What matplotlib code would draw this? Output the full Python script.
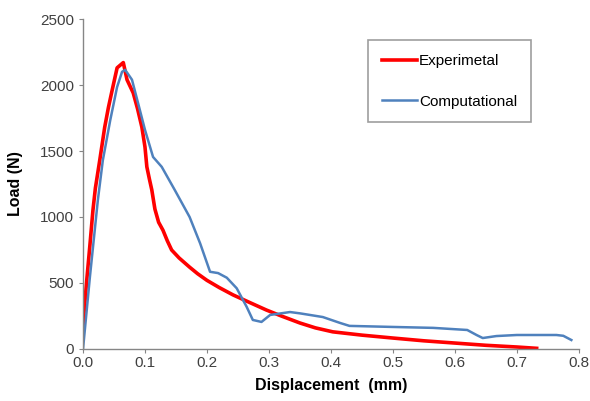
import matplotlib
matplotlib.use("Agg")
import matplotlib.pyplot as plt

plt.rcParams['font.family'] = ['Liberation Sans', 'DejaVu Sans']

exp_x = [0.0, 0.001, 0.006, 0.011, 0.016, 0.020, 0.027, 0.035, 0.041, 0.047, 0.055, 0.060,
         0.065, 0.071, 0.081, 0.088, 0.095, 0.100, 0.103, 0.107, 0.111, 0.116, 0.122, 0.129,
         0.136, 0.143, 0.155, 0.172, 0.185, 0.200, 0.220, 0.242, 0.270, 0.296, 0.320,
         0.350, 0.375, 0.403, 0.450, 0.500, 0.550, 0.600, 0.650, 0.700, 0.732]
exp_y = [120, 240, 520, 780, 1050, 1220, 1430, 1680, 1830, 1960, 2130, 2150,
         2170, 2040, 1940, 1820, 1680, 1530, 1380, 1290, 1205, 1060, 960, 900,
         820, 750, 690, 620, 570, 520, 465, 410, 350, 295, 250,
         197, 160, 130, 105, 83, 62, 45, 28, 15, 5]

# computational curve
comp_x = [0.0, 0.011, 0.024, 0.032, 0.044, 0.055, 0.063, 0.068, 0.079, 0.089, 0.100,
          0.113, 0.127, 0.148, 0.172, 0.189, 0.205, 0.218, 0.232, 0.248, 0.264, 0.274,
          0.288, 0.302, 0.334, 0.350, 0.366, 0.387, 0.415, 0.430, 0.500, 0.565, 0.620,
          0.635, 0.645, 0.667, 0.700, 0.764, 0.775, 0.788]
comp_y = [0, 540, 1130, 1430, 1735, 1985, 2100, 2115, 2040, 1860, 1660,
          1455, 1380, 1205, 1000, 800, 585, 575, 540, 460, 320, 220,
          205, 258, 280, 270, 258, 242, 197, 175, 167, 160, 144,
          106, 83, 98, 106, 106, 100, 68]

x_ticks = [0.0, 0.1, 0.2, 0.3, 0.4, 0.5, 0.6, 0.7, 0.8]
y_ticks = [0, 500, 1000, 1500, 2000, 2500]

fig = plt.figure(figsize=(5.9, 4.01), dpi=100)
ax = fig.add_axes([0.1407, 0.1297, 0.8403, 0.8229])

ax.plot(exp_x, exp_y, color='#ff0000', lw=2.6, label='Experimetal')
ax.plot(comp_x, comp_y, color='#4f81bd', lw=1.8, label='Computational')

ax.set_xlim(0, 0.8)
ax.set_ylim(0, 2500)
ax.set_xticks(x_ticks)
ax.set_xticklabels(['%.1f' % v for v in x_ticks])
ax.set_yticks(y_ticks)

for s in ['top', 'right']:
    ax.spines[s].set_visible(False)
for s in ['left', 'bottom']:
    ax.spines[s].set_color('#868686')
    ax.spines[s].set_linewidth(1.0)
ax.tick_params(axis='both', colors='#868686', labelcolor='#404040', labelsize=11,
               length=3, direction='out')
ax.tick_params(axis='x', pad=2)

ax.set_xlabel('Displacement  (mm)', fontsize=11.5, fontweight='bold', labelpad=6)
ax.set_ylabel('Load (N)', fontsize=11.5, fontweight='bold', labelpad=12)

leg = ax.legend(loc='upper left', bbox_to_anchor=(0.5746, 0.936), frameon=True,
                fancybox=False, fontsize=11, labelspacing=1.75, handlelength=2.3,
                handletextpad=0.15, borderpad=0.9, borderaxespad=0)
leg.get_frame().set_edgecolor('#868686')
leg.get_frame().set_linewidth(1.2)

fig.savefig('out.png', dpi=100)
